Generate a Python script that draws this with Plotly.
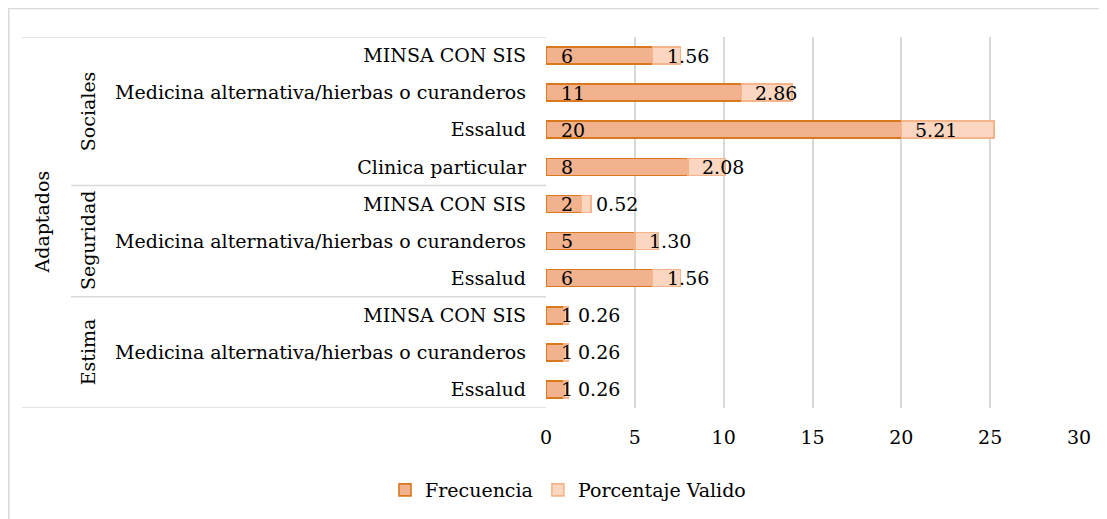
import plotly.graph_objects as go

# ---- data (bottom to top) ----
groups = ["Estima", "Estima", "Estima",
          "Seguridad", "Seguridad", "Seguridad",
          "Sociales", "Sociales", "Sociales", "Sociales"]
items = ["Essalud", "Medicina alternativa/hierbas o curanderos", "MINSA CON SIS",
         "Essalud", "Medicina alternativa/hierbas o curanderos", "MINSA CON SIS",
         "Clinica particular", "Essalud", "Medicina alternativa/hierbas o curanderos", "MINSA CON SIS"]
top_group = "Adaptados"
frecuencia = [1, 1, 1, 6, 5, 2, 8, 20, 11, 6]
porcentaje = [0.26, 0.26, 0.26, 1.56, 1.30, 0.52, 2.08, 5.21, 2.86, 1.56]
x_ticks = [0, 5, 10, 15, 20, 25, 30]

FONT = "DejaVu Serif"
FS = 19
OFF = 8  # page body margin
W, H = 1107, 519
ML = 546 - OFF
PR = 1079 - OFF
MT = 37 - OFF
PB = 408 - OFF
MR = W - PR
MB = H - PB
PW = PR - ML
PH = PB - MT

def px_x(p):
    return (p - OFF - ML) / PW

def px_y(p):
    return (PB - (p - OFF)) / PH

pos = list(range(len(items)))
txtfont = dict(family=FONT, size=FS, color="#000")

fig = go.Figure()
fig.add_trace(go.Bar(
    name="Frecuencia", y=pos, x=frecuencia, orientation="h",
    marker=dict(color="#F2B28E", line=dict(color="#D9781C", width=1.6)),
))
fig.add_trace(go.Bar(
    name="Porcentaje Valido", y=pos, x=porcentaje, orientation="h",
    marker=dict(color="#FBD6C1", line=dict(color="#F5B48A", width=1.6)),
))

annotations = []
for i, (f, p) in enumerate(zip(frecuencia, porcentaje)):
    annotations.append(dict(x=0, y=i, xref="x", yref="y", text=str(f), showarrow=False,
                            xanchor="left", yanchor="middle", xshift=13, font=txtfont))
    annotations.append(dict(x=f, y=i, xref="x", yref="y", text=f"{p:.2f}", showarrow=False,
                            xanchor="left", yanchor="middle", xshift=12, font=txtfont))

# group labels and separators
shapes = []
line_col = "#D9D9D9"
uniq = []
for g in groups:
    if g not in uniq:
        uniq.append(g)
for g in uniq:
    idx = [i for i, gg in enumerate(groups) if gg == g]
    annotations.append(dict(x=px_x(88), y=(min(idx) + max(idx)) / 2, xref="paper", yref="y",
                            text=g, textangle=-90, showarrow=False,
                            xanchor="center", yanchor="middle", font=txtfont))
    if min(idx) > 0:
        shapes.append(dict(type="line", xref="paper", yref="y", x0=px_x(71), x1=0,
                           y0=min(idx) - 0.5, y1=min(idx) - 0.5,
                           line=dict(color=line_col, width=1.5)))
annotations.append(dict(x=px_x(41), y=(len(items) - 1) / 2, xref="paper", yref="y",
                        text=top_group, textangle=-90, showarrow=False,
                        xanchor="center", yanchor="middle", font=txtfont))
for yv in (-0.5, len(items) - 0.5):
    shapes.append(dict(type="line", xref="paper", yref="y", x0=px_x(22), x1=0,
                       y0=yv, y1=yv, line=dict(color=line_col, width=1.5)))

# outer chart border (top and left)
shapes.append(dict(type="line", xref="paper", yref="paper", x0=px_x(8), x1=px_x(1115),
                   y0=px_y(8.5), y1=px_y(8.5), line=dict(color=line_col, width=1.5)))
shapes.append(dict(type="line", xref="paper", yref="paper", x0=px_x(8.8), x1=px_x(8.8),
                   y0=px_y(8), y1=px_y(530), line=dict(color=line_col, width=1.5)))

fig.update_layout(
    width=W, height=H,
    margin=dict(l=ML, r=MR, t=MT, b=MB, autoexpand=False),
    barmode="stack", bargap=0.54,
    plot_bgcolor="white", paper_bgcolor="white",
    font=txtfont,
    xaxis=dict(range=[0, 30], tickvals=x_ticks, showgrid=True, gridcolor="#D9D9D9",
               gridwidth=1.5, zeroline=False, showline=False, ticks="",
               ticklabelstandoff=16, tickfont=txtfont),
    yaxis=dict(range=[-0.5, len(items) - 0.5], tickvals=pos, ticktext=items,
               showgrid=False, zeroline=False, showline=False, ticks="",
               ticklabelstandoff=19, tickfont=txtfont),
    legend=dict(orientation="h", x=px_x(568), xanchor="center", y=px_y(490), yanchor="middle",
                font=txtfont, traceorder="normal", itemwidth=30),
    annotations=annotations, shapes=shapes,
    showlegend=True,
)

fig.write_html("out.html")
